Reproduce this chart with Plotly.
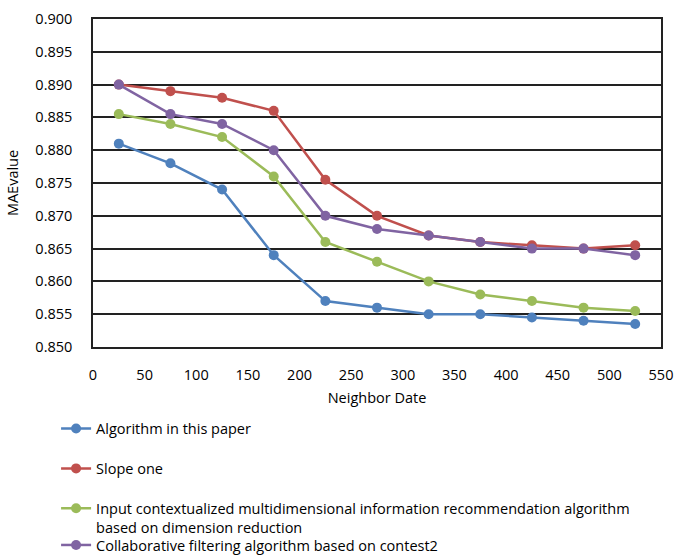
import plotly.graph_objects as go

neighbors = [25, 75, 125, 175, 225, 275, 325, 375, 425, 475, 525]
algo_paper = [0.881, 0.878, 0.874, 0.864, 0.857, 0.856, 0.855, 0.855, 0.8545, 0.854, 0.8535]
slope_one = [0.890, 0.889, 0.888, 0.886, 0.8755, 0.870, 0.867, 0.866, 0.8655, 0.865, 0.8655]
input_ctx = [0.8855, 0.884, 0.882, 0.876, 0.866, 0.863, 0.860, 0.858, 0.857, 0.856, 0.8555]
collab = [0.890, 0.8855, 0.884, 0.880, 0.870, 0.868, 0.867, 0.866, 0.865, 0.865, 0.864]

names = [
    "Algorithm in this paper",
    "Slope one",
    "Input contextualized multidimensional information recommendation algorithm<br>based on dimension reduction",
    "Collaborative filtering algorithm based on contest2",
]
colors = ["#4F81BD", "#C0504D", "#9BBB59", "#8064A2"]
groups = ["g1", "g2", "g3", "g4"]
legends = ["legend", "legend", "legend", "legend2"]
series = [algo_paper, slope_one, input_ctx, collab]

FONT = "Open Sans, sans-serif"

fig = go.Figure()
for name, col, grp, lg, vals in zip(names, colors, groups, legends, series):
    fig.add_trace(go.Scatter(
        x=neighbors, y=vals, mode="lines+markers", name=name,
        legendgroup=grp, legend=lg,
        line=dict(color=col, width=2.5),
        marker=dict(color=col, size=10),
    ))

leg_common = dict(
    xanchor="left", yanchor="top", valign="top",
    font=dict(family=FONT, size=14.5, color="#000"),
    bgcolor="rgba(0,0,0,0)",
)

fig.update_layout(
    width=674, height=555,
    margin=dict(l=93, r=13, t=19, b=208, autoexpand=False),
    plot_bgcolor="white", paper_bgcolor="white",
    font=dict(family=FONT, size=14.5, color="#000"),
    showlegend=True,
    legend=dict(x=-0.065, y=-0.2, tracegroupgap=18, **leg_common),
    legend2=dict(x=-0.065, y=-0.555, **leg_common),
    xaxis=dict(
        range=[0, 550], tickmode="linear", tick0=0, dtick=50,
        showgrid=False, showline=True, linecolor="#222", linewidth=1.5, mirror=True,
        zeroline=False, ticks="", ticklabelstandoff=14,
        title=dict(text="Neighbor Date", standoff=10, font=dict(size=14.5)),
        tickfont=dict(size=14.5),
    ),
    yaxis=dict(
        range=[0.850, 0.900], tickmode="linear", tick0=0.85, dtick=0.005,
        tickformat=".3f",
        showgrid=True, gridcolor="#222", gridwidth=1.5,
        showline=True, linecolor="#222", linewidth=1.5, mirror=True,
        zeroline=False, ticks="", ticklabelstandoff=16,
        title=dict(text="MAEvalue", standoff=13, font=dict(size=14.5)),
        tickfont=dict(size=14.5),
    ),
)

fig.write_html("out.html")
